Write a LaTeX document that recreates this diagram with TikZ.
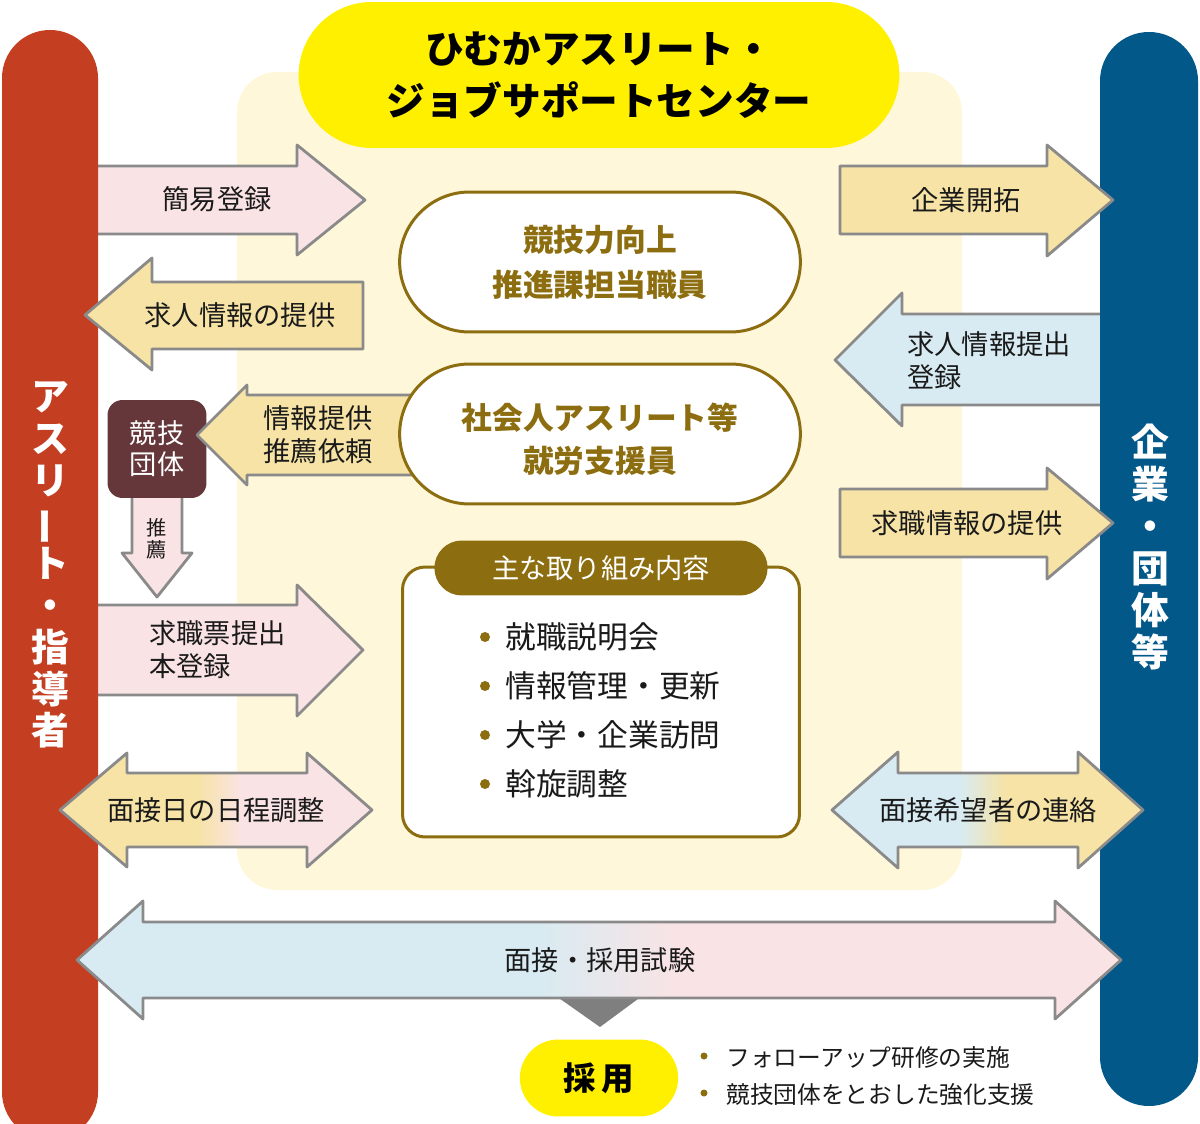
\documentclass[tikz,border=0pt]{standalone}
\usepackage{fontspec}
\setmainfont{Noto Sans CJK JP}
\usetikzlibrary{shapes.misc}
\definecolor{athred}{HTML}{C43F22}
\definecolor{compblue}{HTML}{03588A}
\definecolor{titleyellow}{HTML}{FFF000}
\definecolor{cream}{HTML}{FEF7DA}
\definecolor{arrpink}{HTML}{FAE3E4}
\definecolor{arryellow}{HTML}{F6E3A5}
\definecolor{arrblue}{HTML}{D8EBF2}
\definecolor{arrgray}{HTML}{8A8A8A}
\definecolor{staffbrown}{HTML}{8C6D0F}
\definecolor{teamred}{HTML}{65373A}
\definecolor{trigray}{HTML}{7F7F7F}
\definecolor{ink}{HTML}{1A1A1A}
\pgfdeclarehorizontalshading{yellowpink}{100bp}{color(0bp)=(arryellow); color(47bp)=(arryellow); color(54bp)=(arrpink); color(100bp)=(arrpink)}
\pgfdeclarehorizontalshading{blueyellow}{100bp}{color(0bp)=(arrblue); color(45.5bp)=(arrblue); color(53bp)=(arryellow); color(100bp)=(arryellow)}
\pgfdeclarehorizontalshading{bluepink}{100bp}{color(0bp)=(arrblue); color(47bp)=(arrblue); color(54bp)=(arrpink); color(100bp)=(arrpink)}

\begin{document}
\begin{tikzpicture}[
    x=0.02cm, y=-0.02cm,
    arrowbox/.style={draw=arrgray, line width=1.6pt, line join=round},
    lbl/.style={inner sep=0pt, align=left, text=ink, font=\fontsize{15.5}{18.7}\selectfont},
    staff/.style={rounded rectangle, draw=staffbrown, line width=1.7pt, fill=white,
        minimum width=8.25cm, minimum height=2.8cm, align=center, text=staffbrown,
        font=\fontsize{17.5}{25.5}\selectfont\bfseries},
    sidetext/.style={inner sep=0pt, align=center, text=white,
        font=\fontsize{21.5}{23.8}\selectfont\bfseries},
    dot/.style={fill=staffbrown}
]
    \useasboundingbox (0,0) rectangle (1200,1124);
    \clip (0,0) rectangle (1200,1124);

    % support center area and title
    \fill[cream, rounded corners=0.8cm] (237,72) rectangle (962,890);
    \node[rounded rectangle, fill=titleyellow, minimum width=12.25cm, minimum height=2.92cm,
        align=center, font=\fontsize{22}{29.5}\selectfont\bfseries] (title) at (599,75)
        {ひむかアスリート・\\ジョブサポートセンター};

    % arrows starting under the bars
    \draw[arrowbox, fill=arrpink] (90,166) -- (297,166) -- (297,145) -- (365,200) -- (297,255) -- (297,234) -- (90,234) -- cycle;
    \draw[arrowbox, fill=arrpink] (90,605) -- (297,605) -- (297,585) -- (363,650) -- (297,716) -- (297,695) -- (90,695) -- cycle;
    \draw[arrowbox, fill=arrblue] (1108,314) -- (902,314) -- (902,293) -- (835,360) -- (902,426) -- (902,405) -- (1108,405) -- cycle;
    \draw[arrowbox, fill=arrpink] (132,490) -- (132,553) -- (122,553) -- (157,597) -- (192,553) -- (182,553) -- (182,490) -- cycle;

    % side bars
    \fill[athred, rounded corners=0.96cm] (2,30) rectangle (98,1140);
    \fill[compblue, rounded corners=0.98cm] (1100,32) rectangle (1198,1106);
    \node[sidetext] (athlete) at (50,565) {ア\\ス\\リ\\\rotatebox[origin=c]{90}{ー}\\ト\\・\\指\\導\\者};
    \node[sidetext] (company) at (1150,547) {企\\業\\・\\団\\体\\等};

    % sports organisation
    \node[fill=teamred, rounded corners=0.3cm, minimum width=1.98cm, minimum height=1.96cm,
        inner sep=0pt, text=white, align=center, font=\fontsize{15.5}{17.6}\selectfont] (team) at (157,449) {競技\\団体};

    % arrows over the bars
    \draw[arrowbox, fill=arryellow] (85,315) -- (152,258) -- (152,282) -- (363,282) -- (363,349) -- (152,349) -- (152,370) -- cycle;
    \draw[arrowbox, fill=arryellow] (197,435) -- (247,385) -- (247,395) -- (420,395) -- (420,475) -- (247,475) -- (247,485) -- cycle;
    \draw[arrowbox, fill=arryellow] (840,166) -- (1047,166) -- (1047,145) -- (1113,200) -- (1047,256) -- (1047,234) -- (840,234) -- cycle;
    \draw[arrowbox, fill=arryellow] (840,489) -- (1047,489) -- (1047,468) -- (1113,523) -- (1047,579) -- (1047,557) -- (840,557) -- cycle;
    \shadedraw[arrowbox, shading=yellowpink] (60,810) -- (127,753) -- (127,773) -- (307,773) -- (307,753) -- (372,810) -- (307,867) -- (307,847) -- (127,847) -- (127,867) -- cycle;
    \shadedraw[arrowbox, shading=blueyellow] (832,810) -- (898,752) -- (898,773) -- (1078,773) -- (1078,752) -- (1143,810) -- (1078,868) -- (1078,847) -- (898,847) -- (898,868) -- cycle;
    \fill[trigray] (556,996) -- (642,996) -- (600,1027) -- cycle;
    \shadedraw[arrowbox, shading=bluepink] (77,960) -- (143,901) -- (143,922) -- (1055,922) -- (1055,901) -- (1121,960) -- (1055,1019) -- (1055,998) -- (143,998) -- (143,1019) -- cycle;

    % staff
    \node[staff] (skill) at (600,262) {競技力向上\\推進課担当職員};
    \node[staff, font=\fontsize{17.5}{24}\selectfont\bfseries] (support) at (600,434)
        {\rule{0pt}{21pt}社会人アスリート等\\就労支援員};

    % main activities
    \node[draw=staffbrown, line width=1.7pt, fill=white, rounded corners=0.45cm,
        minimum width=7.94cm, minimum height=5.4cm] (tasks) at (601,702) {};
    \node[rounded rectangle, fill=staffbrown, minimum width=6.9cm, minimum height=1.1cm,
        text=white, font=\fontsize{15.5}{18}\selectfont] (tasktab) at (601,568) {主な取り組み内容};
    \foreach \txt [count=\i] in {就職説明会, 情報管理・更新, 大学・企業訪問, 斡旋調整} {
        \fill[dot] (485,588+49*\i) circle (0.1cm);
        \node[lbl, anchor=west, font=\fontsize{17.5}{20}\selectfont] (item\i) at (505,588+49*\i) {\txt};
    }

    % arrow labels
    \node[lbl] (quickreg) at (217,199) {簡易登録};
    \node[lbl] (jobinfo) at (240,315) {求人情報の提供};
    \node[lbl] (request) at (318,435) {情報提供\\推薦依頼};
    \node[lbl, align=center, font=\fontsize{11.5}{12.5}\selectfont] (recommend) at (157,539) {推\\薦};
    \node[lbl, anchor=west] (fullreg) at (149,650) {求職票提出\\本登録};
    \node[lbl] (schedule) at (216,810) {面接日の日程調整};
    \node[lbl] (pioneer) at (966,200) {企業開拓};
    \node[lbl, anchor=west] (offerreg) at (907,361) {求人情報提出\\登録};
    \node[lbl] (seekinfo) at (967,523) {求職情報の提供};
    \node[lbl] (contact) at (988,810) {面接希望者の連絡};
    \node[lbl] (exam) at (600,960) {面接・採用試験};

    % hiring
    \node[rounded rectangle, fill=titleyellow, minimum width=3.4cm, minimum height=1.54cm,
        font=\fontsize{18.5}{20}\selectfont\bfseries] (hire) at (599,1078) {採\,用};
    \fill[dot] (704,1056) circle (0.07cm);
    \fill[dot] (704,1093) circle (0.07cm);
    \node[lbl, anchor=west, font=\fontsize{13.5}{15}\selectfont] (follow) at (726,1058) {フォローアップ研修の実施};
    \node[lbl, anchor=west, font=\fontsize{13.5}{15}\selectfont] (boost) at (726,1095) {競技団体をとおした強化支援};
\end{tikzpicture}
\end{document}
